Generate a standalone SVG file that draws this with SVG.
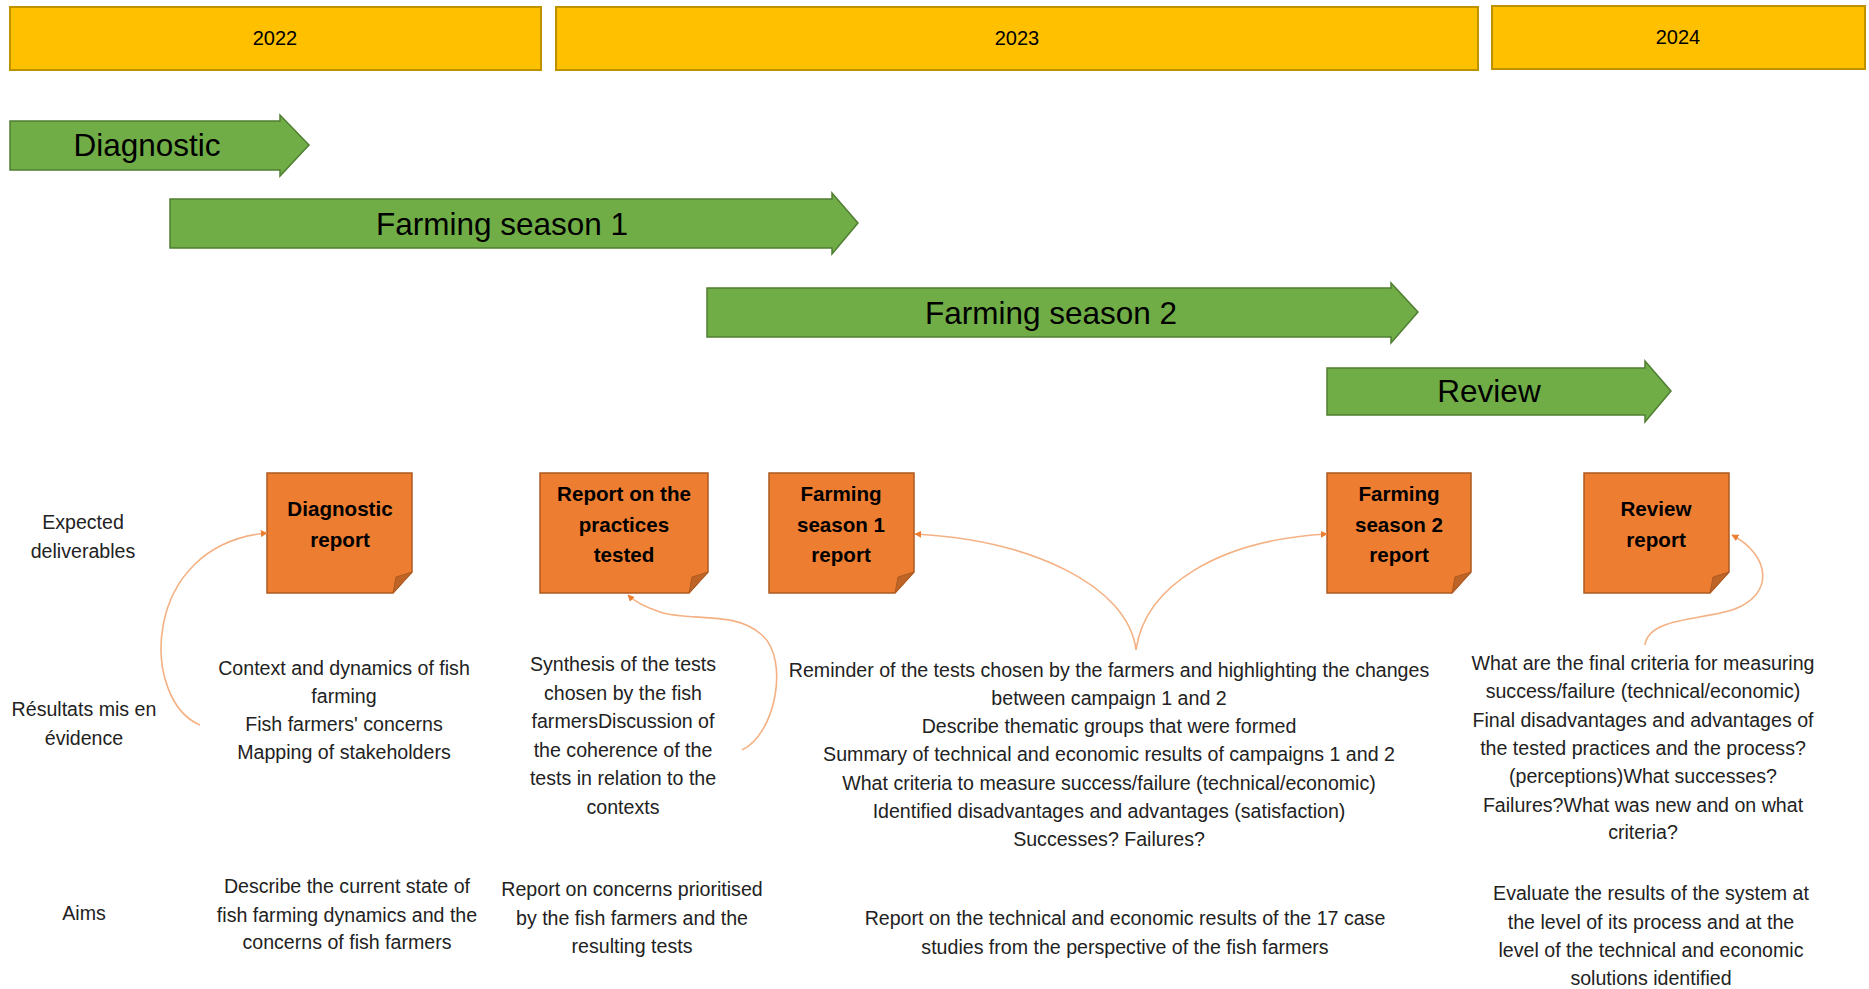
<svg xmlns="http://www.w3.org/2000/svg" width="1869" height="989" viewBox="0 0 1869 989">
<defs>
<style>
.year{fill:#FFC000;stroke:#BF9000;stroke-width:2}
.yt{font-family:"Liberation Sans",Arial,sans-serif;font-size:20px;fill:#000;text-anchor:middle}
.phase{fill:#70AD47;stroke:#507E32;stroke-width:1.5}
.pt{font-family:"Liberation Sans",Arial,sans-serif;font-size:31.5px;fill:#000;text-anchor:middle}
.note{fill:#ED7D31;stroke:#AE5A21;stroke-width:1.5}
.fold{fill:#BE6427;stroke:#AE5A21;stroke-width:1}
.nt{font-family:"Liberation Sans",Arial,sans-serif;font-size:20.6px;font-weight:bold;fill:#000;text-anchor:middle}
.bt{font-family:"Liberation Sans",Arial,sans-serif;font-size:19.6px;fill:#222;text-anchor:middle}
.conn{fill:none;stroke:#F4B183;stroke-width:1.6;marker-end:url(#ah)}
</style>
<marker id="ah" viewBox="0 0 10 10" refX="9" refY="5" markerWidth="7" markerHeight="7" markerUnits="userSpaceOnUse" orient="auto">
<path d="M0,0 L10,5 L0,10 Z" fill="#ED7D31"/>
</marker>
</defs>
<rect width="1869" height="989" fill="#fff"/>

<g id="year-2022"><rect class="year" x="10" y="7" width="531" height="63"/><text class="yt" x="275" y="45">2022</text></g>
<g id="year-2023"><rect class="year" x="556" y="7" width="922" height="63"/><text class="yt" x="1017" y="45">2023</text></g>
<g id="year-2024"><rect class="year" x="1492" y="6" width="373" height="63"/><text class="yt" x="1678" y="44">2024</text></g>

<g id="phase-diagnostic"><path class="phase" d="M10,121 H280 V115 L309,145 L280,176 V170 H10 Z"/><text class="pt" x="147" y="156">Diagnostic</text></g>
<g id="phase-season1"><path class="phase" d="M170,199 H832 V193 L858,223 L832,254 V248 H170 Z"/><text class="pt" x="502" y="235">Farming season 1</text></g>
<g id="phase-season2"><path class="phase" d="M707,288 H1391 V283 L1418,312 L1391,343 V337 H707 Z"/><text class="pt" x="1051" y="324">Farming season 2</text></g>
<g id="phase-review"><path class="phase" d="M1327,368 H1645 V361 L1671,391 L1645,422 V415 H1327 Z"/><text class="pt" x="1489" y="402">Review</text></g>

<g id="label-deliverables"><text class="bt" x="83" y="529">Expected</text><text class="bt" x="83" y="558">deliverables</text></g>
<g id="label-results"><text class="bt" x="84" y="716">Résultats mis en</text><text class="bt" x="84" y="745">évidence</text></g>
<g id="label-aims"><text class="bt" x="84" y="920">Aims</text></g>

<g id="note-diagnostic-report">
<path class="note" d="M267,473 H412 V572 L393,593 H267 Z"/><path class="fold" d="M412,572 L396,577 L393,593 Z"/>
<text class="nt" x="340" y="516">Diagnostic</text><text class="nt" x="340" y="547">report</text></g>
<g id="note-practices-report">
<path class="note" d="M540,473 H708 V572 L689,593 H540 Z"/><path class="fold" d="M708,572 L692,577 L689,593 Z"/>
<text class="nt" x="624" y="501">Report on the</text><text class="nt" x="624" y="532">practices</text><text class="nt" x="624" y="562">tested</text></g>
<g id="note-season1-report">
<path class="note" d="M769,473 H914 V572 L895,593 H769 Z"/><path class="fold" d="M914,572 L898,577 L895,593 Z"/>
<text class="nt" x="841" y="501">Farming</text><text class="nt" x="841" y="532">season 1</text><text class="nt" x="841" y="562">report</text></g>
<g id="note-season2-report">
<path class="note" d="M1327,473 H1471 V572 L1452,593 H1327 Z"/><path class="fold" d="M1471,572 L1455,577 L1452,593 Z"/>
<text class="nt" x="1399" y="501">Farming</text><text class="nt" x="1399" y="532">season 2</text><text class="nt" x="1399" y="562">report</text></g>
<g id="note-review-report">
<path class="note" d="M1584,473 H1729 V572 L1710,593 H1584 Z"/><path class="fold" d="M1729,572 L1713,577 L1710,593 Z"/>
<text class="nt" x="1656" y="516">Review</text><text class="nt" x="1656" y="547">report</text></g>

<g id="results-diagnostic">
<text class="bt" x="344" y="675">Context and dynamics of fish</text>
<text class="bt" x="344" y="703">farming</text>
<text class="bt" x="344" y="731">Fish farmers' concerns</text>
<text class="bt" x="344" y="759">Mapping of stakeholders</text></g>
<g id="results-practices">
<text class="bt" x="623" y="671">Synthesis of the tests</text>
<text class="bt" x="623" y="700">chosen by the fish</text>
<text class="bt" x="623" y="728">farmersDiscussion of</text>
<text class="bt" x="623" y="757">the coherence of the</text>
<text class="bt" x="623" y="785">tests in relation to the</text>
<text class="bt" x="623" y="814">contexts</text></g>
<g id="results-seasons">
<text class="bt" x="1109" y="677">Reminder of the tests chosen by the farmers and highlighting the changes</text>
<text class="bt" x="1109" y="705">between campaign 1 and 2</text>
<text class="bt" x="1109" y="733">Describe thematic groups that were formed</text>
<text class="bt" x="1109" y="761">Summary of technical and economic results of campaigns 1 and 2</text>
<text class="bt" x="1109" y="790">What criteria to measure success/failure (technical/economic)</text>
<text class="bt" x="1109" y="818">Identified disadvantages and advantages (satisfaction)</text>
<text class="bt" x="1109" y="846">Successes? Failures?</text></g>
<g id="results-review">
<text class="bt" x="1643" y="670">What are the final criteria for measuring</text>
<text class="bt" x="1643" y="698">success/failure (technical/economic)</text>
<text class="bt" x="1643" y="727">Final disadvantages and advantages of</text>
<text class="bt" x="1643" y="755">the tested practices and the process?</text>
<text class="bt" x="1643" y="783">(perceptions)What successes?</text>
<text class="bt" x="1643" y="812">Failures?What was new and on what</text>
<text class="bt" x="1643" y="839">criteria?</text></g>

<g id="aims-diagnostic">
<text class="bt" x="347" y="893">Describe the current state of</text>
<text class="bt" x="347" y="922">fish farming dynamics and the</text>
<text class="bt" x="347" y="949">concerns of fish farmers</text></g>
<g id="aims-practices">
<text class="bt" x="632" y="896">Report on concerns prioritised</text>
<text class="bt" x="632" y="925">by the fish farmers and the</text>
<text class="bt" x="632" y="953">resulting tests</text></g>
<g id="aims-seasons">
<text class="bt" x="1125" y="925">Report on the technical and economic results of the 17 case</text>
<text class="bt" x="1125" y="954">studies from the perspective of the fish farmers</text></g>
<g id="aims-review">
<text class="bt" x="1651" y="900">Evaluate the results of the system at</text>
<text class="bt" x="1651" y="929">the level of its process and at the</text>
<text class="bt" x="1651" y="957">level of the technical and economic</text>
<text class="bt" x="1651" y="985">solutions identified</text></g>

<g id="connectors">
<path class="conn" d="M200,725 C140,700 140,545 267,533"/>
<path class="conn" d="M742,750 C775,735 790,660 762,635 C735,610 690,622 660,612 C645,607 635,602 628,595"/>
<path class="conn" d="M1136,650 C1128,585 1030,540 915,534"/>
<path class="conn" d="M1136,650 C1145,585 1220,540 1327,534"/>
<path class="conn" d="M1645,645 C1648,618 1700,620 1732,610 C1776,595 1770,555 1732,535"/>
</g>
</svg>
